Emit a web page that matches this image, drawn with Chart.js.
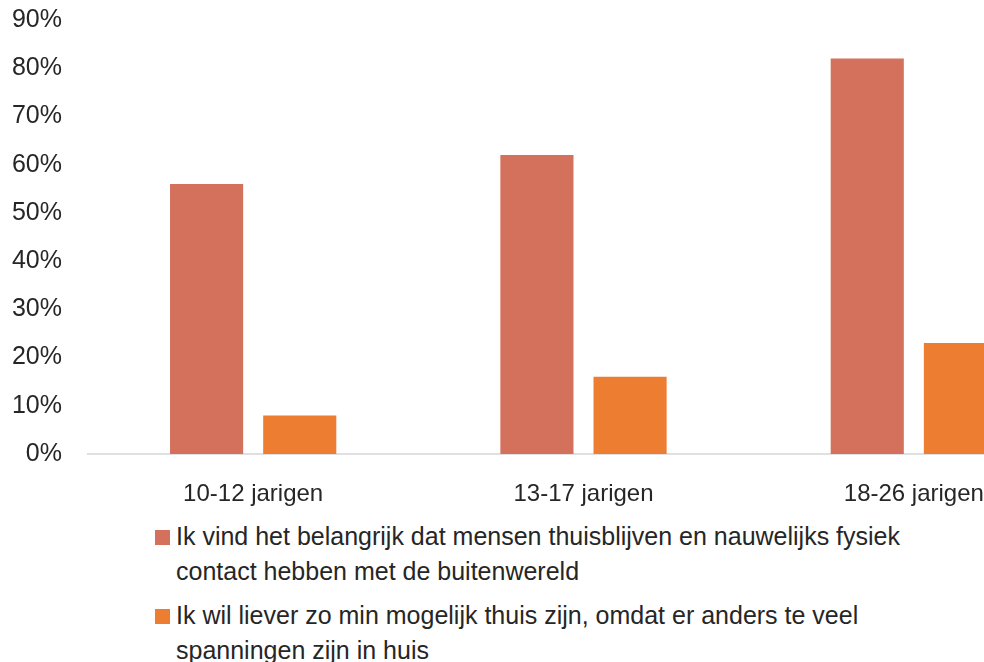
<!DOCTYPE html>
<html lang="nl">
<head>
	<meta charset="UTF-8">
	<script src="https://cdn.jsdelivr.net/npm/chart.js"></script>
	<title>Thuisblijven per leeftijdsgroep</title>
	<style>
		html, body { margin: 0; padding: 0; background: #fff; overflow: hidden; width: 984px; height: 662px; }
		#zonagrafico { position: absolute; left: 0; top: -13px; width: 1080px; height: 527px; }
		#leyenda { position: absolute; left: 155px; top: 519px; font-family: "Liberation Sans", Arial, sans-serif; font-size: 25px; color: #262626; }
		.item { display: flex; align-items: flex-start; margin-bottom: 9px; }
		.caja { width: 15px; height: 15px; margin-top: 11px; margin-right: 6px; flex: none; }
		.texto { width: 780px; line-height: 35px; }
	</style>
</head>
<body>
	<div id="zonagrafico"><canvas id="myChart"></canvas></div>
	<div id="leyenda"></div>
	<script type="text/javascript">
		// categorias y series
		const categorias = ['10-12 jarigen', '13-17 jarigen', '18-26 jarigen'];
		const serie1Label = 'Ik vind het belangrijk dat mensen thuisblijven en nauwelijks fysiek contact hebben met de buitenwereld';
		const serie1 = [56, 62, 82];
		const serie2Label = 'Ik wil liever zo min mogelijk thuis zijn, omdat er anders te veel spanningen zijn in huis';
		const serie2 = [8, 16, 23];
		const colores = ['#D3715C', '#ED7D31'];

		const ctx = document.getElementById('myChart').getContext('2d');
		const myChart = new Chart(ctx, {
			type: 'bar',
			data: {
				labels: categorias,
				datasets: [
					{ label: serie1Label, data: serie1, backgroundColor: colores[0], categoryPercentage: 0.564, barPercentage: 0.785 },
					{ label: serie2Label, data: serie2, backgroundColor: colores[1], categoryPercentage: 0.564, barPercentage: 0.785 }
				]
			},
			options: {
				responsive: true,
				maintainAspectRatio: false,
				animation: false,
				layout: { padding: { top: 0, right: 1, left: 0, bottom: 0 } },
				plugins: { legend: { display: false }, tooltip: { enabled: false } },
				scales: {
					x: {
						grid: { display: false },
						border: { display: true, color: '#E0E0E0', width: 2 },
						ticks: { color: '#262626', padding: 18, font: { family: 'Liberation Sans', size: 24 } },
						afterFit: function(scale) { scale.height = 60; }
					},
					y: {
						min: 0,
						max: 90,
						grid: { display: false },
						border: { display: false },
						ticks: {
							stepSize: 10,
							color: '#262626',
							padding: 18,
							font: { family: 'Liberation Sans', size: 25 },
							callback: function(v) { return v + '%'; }
						},
						afterFit: function(scale) { scale.width = 88; }
					}
				}
			}
		});

		// leyenda en HTML, para que el texto pueda partirse en dos lineas
		const leyenda = document.getElementById('leyenda');
		myChart.data.datasets.forEach(function(ds) {
			const item = document.createElement('div');
			item.className = 'item';
			const caja = document.createElement('div');
			caja.className = 'caja';
			caja.style.background = ds.backgroundColor;
			const texto = document.createElement('div');
			texto.className = 'texto';
			texto.innerText = ds.label;
			item.appendChild(caja);
			item.appendChild(texto);
			leyenda.appendChild(item);
		});
	</script>
</body>
</html>
